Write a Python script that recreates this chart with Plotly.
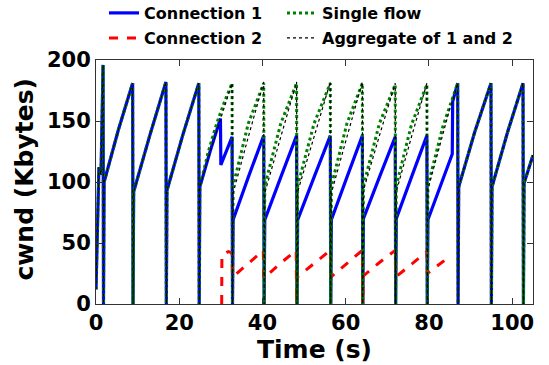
import plotly.graph_objects as go

# Connection 1 (blue)
t_conn1 = [0, 0.7, 1.2, 1.7, 1.8, 1.95, 5.4, 8.8, 8.9, 9.05, 13.0, 16.8, 16.9, 17.05, 20.9, 24.7, 24.8, 24.95,
           27.5, 29.9, 30.0, 32.7, 32.8, 32.95, 36.6, 40.3, 40.4, 40.55, 44.4, 48.2, 48.3, 48.45, 52.4, 56.3, 56.4,
           56.55, 60.3, 64.0, 64.1, 64.25, 68.1, 71.9, 72.0, 72.15, 75.8, 79.5, 79.6, 79.75, 85.6, 85.7, 86.9, 87.0,
           87.15, 91.0, 94.9, 95.0, 95.15, 98.9, 102.6, 102.7, 102.85, 105]
v_conn1 = [12, 112, 106, 196, 0, 100, 143, 181, 0, 92, 139, 182, 0, 93, 139, 181, 0, 96,
           126, 152, 114, 137, 0, 69, 104, 138, 0, 69, 104, 138, 0, 69, 104, 138, 0,
           69, 104, 138, 0, 70, 104, 137, 0, 70, 104, 138, 0, 69, 123, 166, 181, 0,
           96, 141, 181, 0, 96, 141, 181, 0, 99, 122]

# Connection 2 (red)
t_conn2 = [30.2, 30.25, 31.8, 32.7, 32.8, 36.5, 40.2, 40.3, 44.2, 48.1, 48.2, 48.35, 52.3, 56.3, 56.4,
           60.2, 64.0, 64.1, 64.25, 68.1, 71.9, 72.0, 75.8, 79.5, 79.6, 85.0]
v_conn2 = [0, 40, 43, 42, 22, 33, 44, 21, 33, 44, 0, 22, 33, 44, 22,
           33, 44, 0, 23, 34, 44, 22, 33, 43, 25, 39]

# Single flow (green)
t_single = [0, 0.7, 1.2, 1.7, 1.8, 1.95, 5.4, 8.8, 8.9, 9.05, 13.0, 16.8, 16.9, 17.05, 20.9, 24.7, 24.8, 24.95,
            27.0, 29.0, 31.0, 32.7, 32.8, 32.95, 36.6, 40.3, 40.4, 40.55, 44.4, 48.2, 48.3, 48.45, 52.4, 56.3, 56.4,
            56.55, 60.3, 64.0, 64.1, 64.25, 68.1, 71.9, 72.0, 72.15, 75.8, 79.5, 79.6, 79.75, 83.3, 86.9, 87.0,
            87.15, 91.0, 94.9, 95.0, 95.15, 98.9, 102.6, 102.7, 102.85, 105]
v_single = [12, 112, 106, 196, 0, 100, 143, 181, 0, 92, 139, 182, 0, 93, 139, 181, 0, 96,
            125, 148, 167, 181, 0, 97, 148, 181, 0, 97, 148, 181, 0, 97, 148, 181, 0,
            97, 148, 181, 0, 97, 148, 180, 0, 97, 147, 180, 0, 97, 145, 181, 0,
            96, 141, 181, 0, 96, 141, 181, 0, 99, 122]

# Aggregate of 1 and 2 (black)
t_aggr = [0, 0.7, 1.2, 1.7, 1.8, 1.95, 5.4, 8.8, 8.9, 9.05, 13.0, 16.8, 16.9, 17.05, 20.9, 24.7, 24.8, 24.95,
          27.5, 29.9, 30.2, 32.7, 32.8, 32.95, 36.6, 40.3, 40.4, 40.55, 44.4, 48.2, 48.3, 48.45, 52.4, 56.3, 56.4,
          56.55, 60.3, 64.0, 64.1, 64.25, 68.1, 71.9, 72.0, 72.15, 75.8, 79.5, 79.6, 79.75, 85.0, 85.7, 86.9, 87.0,
          87.15, 91.0, 94.9, 95.0, 95.15, 98.9, 102.6, 102.7, 102.85, 105]
v_aggr = [12, 112, 106, 196, 0, 100, 143, 181, 0, 92, 139, 182, 0, 93, 139, 181, 0, 96,
          126, 152, 154, 181, 0, 91, 137, 182, 0, 91, 137, 182, 0, 92, 137, 182, 0,
          91, 137, 182, 0, 93, 138, 181, 0, 92, 137, 181, 0, 94, 160, 166, 181, 0,
          96, 141, 181, 0, 96, 141, 181, 0, 99, 122]

x_ticks = [0, 20, 40, 60, 80, 100]
y_ticks = [0, 50, 100, 150, 200]

FONT = "DejaVu Sans"

fig = go.Figure()
fig.add_trace(go.Scatter(x=t_conn1, y=v_conn1, mode="lines", name="Connection 1",
                         line=dict(color="#0000ff", width=3.2), legend="legend"))
fig.add_trace(go.Scatter(x=t_conn2, y=v_conn2, mode="lines", name="Connection 2",
                         line=dict(color="#ff0000", width=3, dash="dash"), legend="legend3"))
fig.add_trace(go.Scatter(x=t_single, y=v_single, mode="lines", name="Single flow",
                         line=dict(color="#008000", width=3, dash="dot"), legend="legend2"))
fig.add_trace(go.Scatter(x=t_aggr, y=v_aggr, mode="lines", name="Aggregate of 1 and 2",
                         line=dict(color="#000000", width=1.2, dash="dot"), legend="legend4"))

legend_common = dict(xref="container", yref="container", xanchor="left", yanchor="middle",
                     font=dict(family=FONT, size=16, color="black", weight="bold"),
                     bgcolor="rgba(0,0,0,0)", itemwidth=30, borderwidth=0)

col1_x = 104 / 549
col2_x = 282 / 549
row1_y = 1 - 13 / 365
row2_y = 1 - 38 / 365

fig.update_layout(
    width=549, height=365,
    margin=dict(l=96, r=16, t=60, b=61, autoexpand=False),
    paper_bgcolor="white", plot_bgcolor="white",
    showlegend=True,
    legend=dict(x=col1_x, y=row1_y, **legend_common),
    legend2=dict(x=col2_x, y=row1_y, **legend_common),
    legend3=dict(x=col1_x, y=row2_y, **legend_common),
    legend4=dict(x=col2_x, y=row2_y, **legend_common),
    xaxis=dict(range=[0, 105], tickvals=x_ticks, ticks="inside", ticklen=6, tickcolor="#333",
               showline=True, linecolor="#333", linewidth=1, mirror="ticks", showgrid=False, zeroline=False,
               tickfont=dict(family=FONT, size=21, color="black", weight="bold"),
               title=dict(text="Time (s)", font=dict(family=FONT, size=25, color="black", weight="bold"),
                          standoff=0)),
    yaxis=dict(range=[0, 200], tickvals=y_ticks, ticks="inside", ticklen=6, tickcolor="#333",
               showline=True, linecolor="#333", linewidth=1, mirror="ticks", showgrid=False, zeroline=False,
               tickfont=dict(family=FONT, size=21, color="black", weight="bold")),
    annotations=[dict(text="cwnd (Kbytes)", xref="paper", yref="paper", x=(25 - 96) / 437, y=0.51,
                      xanchor="center", yanchor="middle", textangle=-90, showarrow=False,
                      font=dict(family=FONT, size=25, color="black", weight="bold"))],
)

fig.write_html("out.html", post_script="document.body.style.margin='0';",
               config={"displayModeBar": False})
